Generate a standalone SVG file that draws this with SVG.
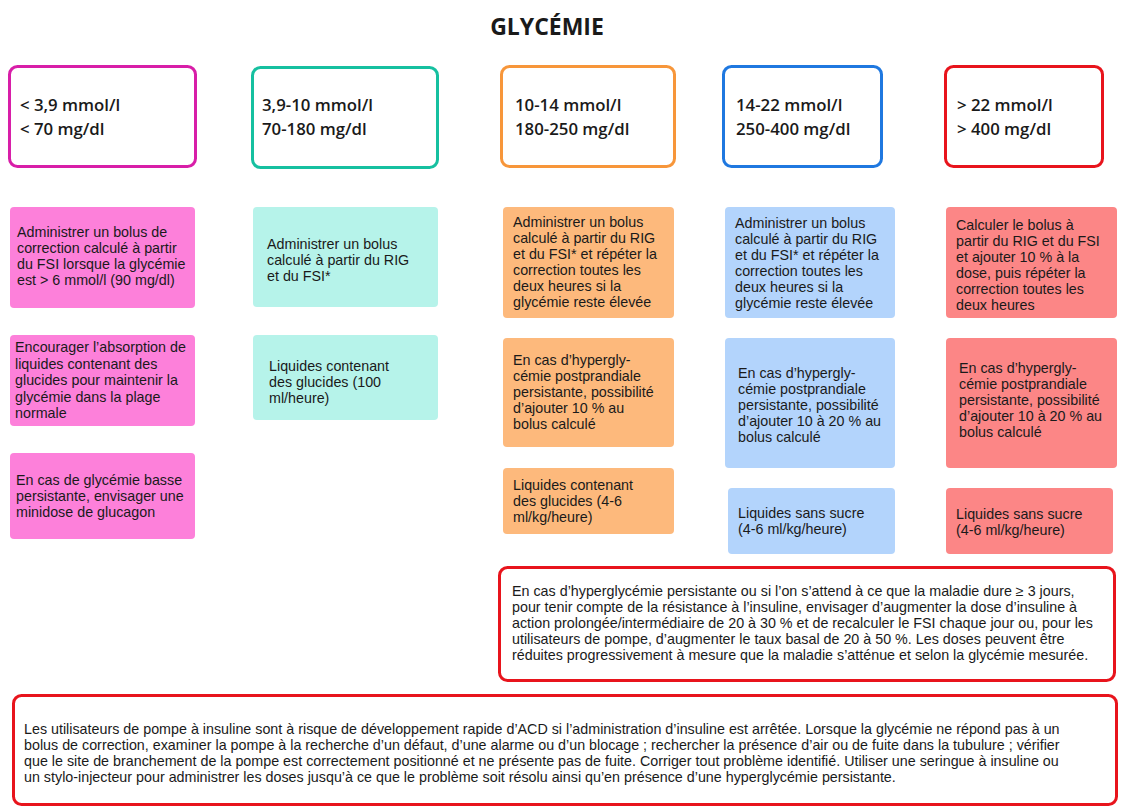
<svg xmlns="http://www.w3.org/2000/svg" width="1138" height="807" viewBox="0 0 1138 807">
<style>
  .bg{fill:#ffffff}
  .title{font-family:"Open Sans","Noto Sans",sans-serif;font-weight:700;font-size:23px;fill:#1a1a1a}
  .hdr{fill:#ffffff;stroke-width:3}
  .htxt{font-family:"Open Sans","Noto Sans",sans-serif;font-weight:600;font-size:16.8px;fill:#1a1a1a}
  .t{font-family:"Liberation Sans",Arial,sans-serif;font-size:14.3px;fill:#1a1a1a}
  .note{fill:#ffffff;stroke:#e8141c;stroke-width:3}
  .pink{fill:#fd80da}
  .teal{fill:#b6f3ea}
  .orange{fill:#fdb97c}
  .blue{fill:#b3d4fc}
  .red{fill:#fc8686}
</style>
<rect class="bg" x="0" y="0" width="1138" height="807"/>
<text class="title" x="547" y="35" text-anchor="middle">GLYCÉMIE</text>

<g id="hdr-low">
  <rect class="hdr" x="9.5" y="66.5" width="186" height="100" rx="8" stroke="#d81ea8"/>
  <text class="htxt"><tspan x="20" y="111">&lt; 3,9 mmol/l</tspan><tspan x="20" y="135">&lt; 70 mg/dl</tspan></text>
</g>
<g id="hdr-normal">
  <rect class="hdr" x="252.5" y="67.5" width="185" height="100" rx="8" stroke="#16c0a0"/>
  <text class="htxt"><tspan x="262" y="111">3,9-10 mmol/l</tspan><tspan x="262" y="135">70-180 mg/dl</tspan></text>
</g>
<g id="hdr-10-14">
  <rect class="hdr" x="501.5" y="66.5" width="173" height="100" rx="8" stroke="#f7963a"/>
  <text class="htxt"><tspan x="515" y="111">10-14 mmol/l</tspan><tspan x="515" y="135">180-250 mg/dl</tspan></text>
</g>
<g id="hdr-14-22">
  <rect class="hdr" x="723.5" y="66.5" width="158" height="100" rx="8" stroke="#1f78e0"/>
  <text class="htxt"><tspan x="736" y="111">14-22 mmol/l</tspan><tspan x="736" y="135">250-400 mg/dl</tspan></text>
</g>
<g id="hdr-high">
  <rect class="hdr" x="945.5" y="66.5" width="157" height="100" rx="8" stroke="#e8141c"/>
  <text class="htxt"><tspan x="957" y="111">&gt; 22 mmol/l</tspan><tspan x="957" y="135">&gt; 400 mg/dl</tspan></text>
</g>

<g id="low-1">
  <rect class="pink" x="10" y="207" width="185" height="101" rx="4"/>
  <text class="t"><tspan x="17" y="237">Administrer un bolus de</tspan><tspan x="17" y="253">correction calculé à partir</tspan><tspan x="17" y="269">du FSI lorsque la glycémie</tspan><tspan x="17" y="285">est &gt; 6 mmol/l (90 mg/dl)</tspan></text>
</g>
<g id="low-2">
  <rect class="pink" x="10" y="335" width="185" height="91" rx="4"/>
  <text class="t"><tspan x="15" y="352">Encourager l’absorption de</tspan><tspan x="15" y="368.5">liquides contenant des</tspan><tspan x="15" y="385">glucides pour maintenir la</tspan><tspan x="15" y="401.5">glycémie dans la plage</tspan><tspan x="15" y="418">normale</tspan></text>
</g>
<g id="low-3">
  <rect class="pink" x="10" y="453" width="185" height="86" rx="4"/>
  <text class="t"><tspan x="16" y="485">En cas de glycémie basse</tspan><tspan x="16" y="501">persistante, envisager une</tspan><tspan x="16" y="517">minidose de glucagon</tspan></text>
</g>

<g id="normal-1">
  <rect class="teal" x="253" y="207" width="185" height="100" rx="4"/>
  <text class="t"><tspan x="267" y="249">Administrer un bolus</tspan><tspan x="267" y="265">calculé à partir du RIG</tspan><tspan x="267" y="281">et du FSI*</tspan></text>
</g>
<g id="normal-2">
  <rect class="teal" x="253" y="335" width="185" height="85" rx="4"/>
  <text class="t"><tspan x="269" y="371">Liquides contenant</tspan><tspan x="269" y="387">des glucides (100</tspan><tspan x="269" y="403">ml/heure)</tspan></text>
</g>

<g id="mid-1">
  <rect class="orange" x="503" y="207" width="171" height="111" rx="4"/>
  <text class="t"><tspan x="513" y="227">Administrer un bolus</tspan><tspan x="513" y="243">calculé à partir du RIG</tspan><tspan x="513" y="259">et du FSI* et répéter la</tspan><tspan x="513" y="275">correction toutes les</tspan><tspan x="513" y="291">deux heures si la</tspan><tspan x="513" y="307">glycémie reste élevée</tspan></text>
</g>
<g id="mid-2">
  <rect class="orange" x="503" y="338" width="171" height="109" rx="4"/>
  <text class="t"><tspan x="513" y="365">En cas d’hypergly-</tspan><tspan x="513" y="381">cémie postprandiale</tspan><tspan x="513" y="397">persistante, possibilité</tspan><tspan x="513" y="413">d’ajouter 10 % au</tspan><tspan x="513" y="429">bolus calculé</tspan></text>
</g>
<g id="mid-3">
  <rect class="orange" x="503" y="468" width="171" height="66" rx="4"/>
  <text class="t"><tspan x="513" y="490">Liquides contenant</tspan><tspan x="513" y="506">des glucides (4-6</tspan><tspan x="513" y="522">ml/kg/heure)</tspan></text>
</g>

<g id="high-1">
  <rect class="blue" x="725" y="207" width="170" height="111" rx="4"/>
  <text class="t"><tspan x="735" y="228">Administrer un bolus</tspan><tspan x="735" y="244">calculé à partir du RIG</tspan><tspan x="735" y="260">et du FSI* et répéter la</tspan><tspan x="735" y="276">correction toutes les</tspan><tspan x="735" y="292">deux heures si la</tspan><tspan x="735" y="308">glycémie reste élevée</tspan></text>
</g>
<g id="high-2">
  <rect class="blue" x="725" y="338" width="170" height="130" rx="4"/>
  <text class="t"><tspan x="738" y="378">En cas d’hypergly-</tspan><tspan x="738" y="394">cémie postprandiale</tspan><tspan x="738" y="410">persistante, possibilité</tspan><tspan x="738" y="426">d’ajouter 10 à 20 % au</tspan><tspan x="738" y="442">bolus calculé</tspan></text>
</g>
<g id="high-3">
  <rect class="blue" x="728" y="488" width="167" height="66" rx="4"/>
  <text class="t"><tspan x="738" y="518">Liquides sans sucre</tspan><tspan x="738" y="534">(4-6 ml/kg/heure)</tspan></text>
</g>

<g id="vhigh-1">
  <rect class="red" x="946" y="207" width="171" height="111" rx="4"/>
  <text class="t"><tspan x="956" y="230">Calculer le bolus à</tspan><tspan x="956" y="246">partir du RIG et du FSI</tspan><tspan x="956" y="262">et ajouter 10 % à la</tspan><tspan x="956" y="278">dose, puis répéter la</tspan><tspan x="956" y="294">correction toutes les</tspan><tspan x="956" y="310">deux heures</tspan></text>
</g>
<g id="vhigh-2">
  <rect class="red" x="946" y="338" width="171" height="130" rx="4"/>
  <text class="t"><tspan x="959" y="373">En cas d’hypergly-</tspan><tspan x="959" y="389">cémie postprandiale</tspan><tspan x="959" y="405">persistante, possibilité</tspan><tspan x="959" y="421">d’ajouter 10 à 20 % au</tspan><tspan x="959" y="437">bolus calculé</tspan></text>
</g>
<g id="vhigh-3">
  <rect class="red" x="946" y="488" width="167" height="66" rx="4"/>
  <text class="t"><tspan x="956" y="519">Liquides sans sucre</tspan><tspan x="956" y="535">(4-6 ml/kg/heure)</tspan></text>
</g>

<g id="note-persistent">
  <rect class="note" x="499.5" y="567.5" width="615" height="113" rx="8"/>
  <text class="t"><tspan x="512" y="596">En cas d’hyperglycémie persistante ou si l’on s’attend à ce que la maladie dure ≥ 3 jours,</tspan><tspan x="512" y="612">pour tenir compte de la résistance à l’insuline, envisager d’augmenter la dose d’insuline à</tspan><tspan x="512" y="628">action prolongée/intermédiaire de 20 à 30 % et de recalculer le FSI chaque jour ou, pour les</tspan><tspan x="512" y="644">utilisateurs de pompe, d’augmenter le taux basal de 20 à 50 %. Les doses peuvent être</tspan><tspan x="512" y="660">réduites progressivement à mesure que la maladie s’atténue et selon la glycémie mesurée.</tspan></text>
</g>

<g id="note-pump">
  <rect class="note" x="13.5" y="695.5" width="1103" height="109" rx="8"/>
  <text class="t"><tspan x="24" y="734">Les utilisateurs de pompe à insuline sont à risque de développement rapide d’ACD si l’administration d’insuline est arrêtée. Lorsque la glycémie ne répond pas à un</tspan><tspan x="24" y="750">bolus de correction, examiner la pompe à la recherche d’un défaut, d’une alarme ou d’un blocage ; rechercher la présence d’air ou de fuite dans la tubulure ; vérifier</tspan><tspan x="24" y="766">que le site de branchement de la pompe est correctement positionné et ne présente pas de fuite. Corriger tout problème identifié. Utiliser une seringue à insuline ou</tspan><tspan x="24" y="782">un stylo-injecteur pour administrer les doses jusqu’à ce que le problème soit résolu ainsi qu’en présence d’une hyperglycémie persistante.</tspan></text>
</g>
</svg>
